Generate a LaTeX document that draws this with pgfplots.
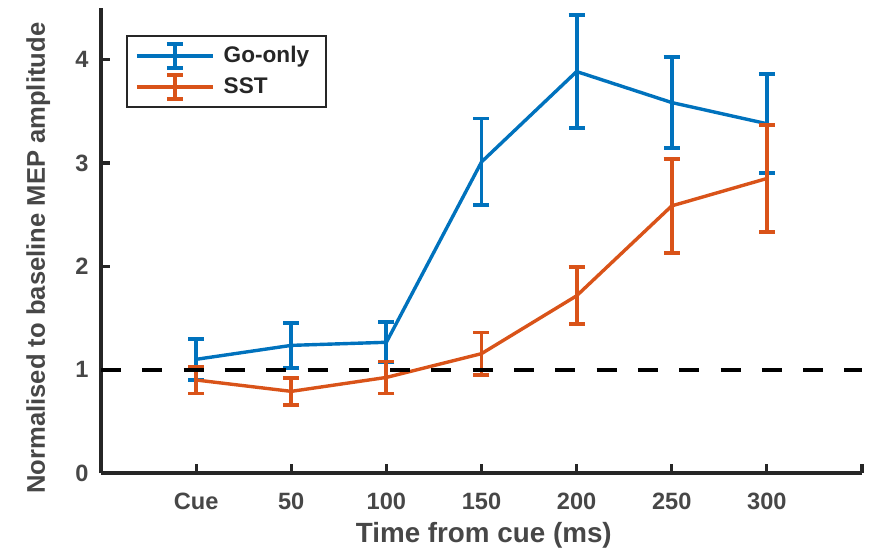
\documentclass[border=0pt]{standalone}
\usepackage{fontspec}
\setmainfont{Liberation Sans}
\usepackage{pgfplots}
\pgfplotsset{compat=1.18}

\definecolor{goblue}{rgb}{0,0.447,0.741}
\definecolor{sstorange}{rgb}{0.85,0.325,0.098}
\definecolor{axgray}{gray}{0.15}
\definecolor{labgray}{gray}{0.28}

\begin{document}
\begin{tikzpicture}
\path[use as bounding box] (-50.5bp,-39.5bp) rectangle (385bp,236.5bp);
\begin{axis}[
  scale only axis,
  width=380.5bp, height=232.5bp,
  xmin=-1, xmax=7, ymin=0, ymax=4.5,
  axis x line*=bottom, axis y line*=left,
  axis line style={axgray, line width=1.6bp},
  tick align=inside,
  major tick length=4.5bp,
  tick style={axgray, line width=1.6bp},
  xtick={0,1,2,3,4,5,6,7},
  xticklabels={Cue,50,100,150,200,250,300,{}},
  ytick={0,1,2,3,4},
  /pgf/number format/assume math mode=true,
  ticklabel style={font=\fontsize{11.8bp}{14bp}\selectfont\bfseries, text=labgray},
  xticklabel style={anchor=base, inner sep=0pt, yshift=-18bp},
  yticklabel style={anchor=east, inner sep=0pt, xshift=-6bp},
  xlabel={Time from cue (ms)},
  ylabel={Normalised to baseline MEP amplitude},
  label style={font=\fontsize{12.8bp}{15bp}\selectfont\bfseries, text=labgray, inner sep=0pt},
  xlabel style={font=\fontsize{13.9bp}{16bp}\selectfont\bfseries, at={(axis description cs:0.503,-0.1505)}, anchor=base},
  ylabel style={at={(axis description cs:-0.0736,0.462)}, anchor=base},
  clip=false,
  legend cell align=left,
  legend style={
    at={(axis description cs:0.0329,0.942)}, anchor=north west,
    draw=axgray, line width=1.1bp,
    font=\fontsize{11.3bp}{13bp}\selectfont\bfseries,
    text=axgray,
    inner xsep=4bp, inner ysep=3bp,
    row sep=1.5bp,
    nodes={inner xsep=4.5bp},
  },
  legend image code/.code={
    \draw[#1, mark=none, line width=1.8bp] (0bp,0bp) -- (38bp,0bp);
    \draw[#1, mark=none, line width=1.9bp] (19bp,-6bp) -- (19bp,6bp);
    \draw[#1, mark=none, line width=1.9bp] (15bp,-6bp) -- (23bp,-6bp);
    \draw[#1, mark=none, line width=1.9bp] (15bp,6bp) -- (23bp,6bp);
  },
  error bars/y dir=both,
  error bars/y explicit,
  error bars/error mark=|,
  error bars/error bar style={line width=1.9bp},
  error bars/error mark options={line width=1.9bp, mark size=4bp},
]

% Go-only trials: mean and error
\addplot[goblue, line width=1.7bp, mark=none] coordinates {
  (0,1.100) +- (0,0.200)
  (1,1.235) +- (0,0.215)
  (2,1.265) +- (0,0.195)
  (3,3.010) +- (0,0.420)
  (4,3.885) +- (0,0.545)
  (5,3.585) +- (0,0.440)
  (6,3.380) +- (0,0.480)
};
\addlegendentry{Go-only}

% Stop-signal trials: mean and error
\addplot[sstorange, line width=1.7bp, mark=none] coordinates {
  (0,0.900) +- (0,0.130)
  (1,0.790) +- (0,0.130)
  (2,0.925) +- (0,0.155)
  (3,1.155) +- (0,0.205)
  (4,1.715) +- (0,0.275)
  (5,2.585) +- (0,0.455)
  (6,2.850) +- (0,0.520)
};
\addlegendentry{SST}

% baseline reference
\addplot[black, line width=2bp, dash pattern=on 10bp off 10.65bp, forget plot]
  coordinates {(-1,1) (7,1)};
\end{axis}
\end{tikzpicture}
\end{document}
